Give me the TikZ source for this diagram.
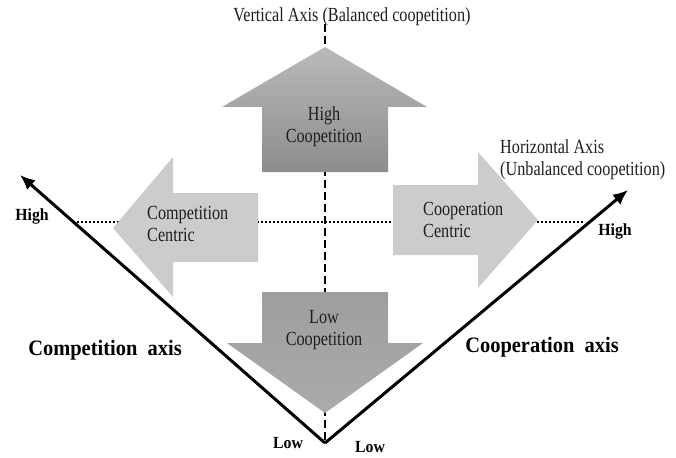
\documentclass[tikz,border=0pt]{standalone}
\usepackage{fontspec}
\setmainfont{Liberation Serif}
\usetikzlibrary{arrows.meta}
\newcommand{\nx}[1]{\scalebox{0.81}[1]{#1}}
\newcommand{\bx}[1]{\scalebox{0.93}[1]{#1}}
\begin{document}
\begin{tikzpicture}[x=1pt,y=-1pt,
  lbl/.style={font=\fontsize{20}{22}\selectfont, inner sep=0pt, text=black!88},
  blbl/.style={font=\fontsize{17}{19}\selectfont\bfseries, inner sep=0pt},
  axlbl/.style={font=\fontsize{22}{24}\selectfont\bfseries, inner sep=0pt},
  axisline/.style={line width=3pt, -{Latex[length=15pt,width=13pt]}},
  vdash/.style={line width=2.2pt, dash pattern=on 8pt off 4pt},
  hdot/.style={line width=2.4pt, dash pattern=on 2pt off 2pt},
  sidearrow/.style={fill=black!20},
  uparrow/.style={top color=black!27, bottom color=black!45},
  downarrow/.style={top color=black!38, bottom color=black!33}]
\useasboundingbox (0,0) rectangle (676,457);

% coordinates
\coordinate (O) at (325,443);
\coordinate (L) at (20,175);
\coordinate (R) at (628,190);
\coordinate (vtop) at (325,24);
\coordinate (hl) at (73,222);
\coordinate (hr) at (585,222);

% guide lines
\draw[vdash] (vtop) -- (O);
\draw[hdot] (hl) -- (hr);

% up arrow (High Coopetition)
\path[uparrow] (325,47) -- (427,107) -- (388,107) -- (388,172) -- (262,172) -- (262,107) -- (222,107) -- cycle;
% down arrow (Low Coopetition)
\path[downarrow] (262,292) -- (388,292) -- (388,343) -- (423,343) -- (325,413) -- (227,343) -- (262,343) -- cycle;
% left arrow (Competition Centric)
\path[sidearrow] (113,228) -- (173,157) -- (173,193) -- (258,193) -- (258,262) -- (173,262) -- (173,297) -- cycle;
% right arrow (Cooperation Centric)
\path[sidearrow] (538,220) -- (478,152) -- (478,185) -- (393,185) -- (393,255) -- (478,255) -- (478,288) -- cycle;

% axes
\draw[axisline] (O) -- (L);
\draw[axisline] (O) -- (R);

% labels
\node[lbl] (vt) at (352,17) {\nx{Vertical Axis (Balanced coopetition)}};
\node[lbl, align=left, anchor=north west] (ht) at (500,139) {\nx{Horizontal Axis}\\\nx{(Unbalanced coopetition)}};
\node[lbl, align=center] (hc) at (324,127) {\nx{High}\\\nx{Coopetition}};
\node[lbl, align=center] (lc) at (324,330) {\nx{Low}\\\nx{Coopetition}};
\node[lbl, align=left, anchor=west] (cc) at (147,224) {\nx{Competition}\\\nx{Centric}};
\node[lbl, align=left, anchor=west] (oc) at (423,220) {\nx{Cooperation}\\\nx{Centric}};
\node[blbl] (hl1) at (32,216) {\bx{High}};
\node[blbl] (hr1) at (615,231) {\bx{High}};
\node[blbl] (lw1) at (288,443) {\bx{Low}};
\node[blbl] (lw2) at (370,447) {\bx{Low}};
\node[axlbl] (ca) at (105,350) {\bx{Competition\ \ axis}};
\node[axlbl] (oa) at (542,347) {\bx{Cooperation\ \ axis}};
\end{tikzpicture}
\end{document}
